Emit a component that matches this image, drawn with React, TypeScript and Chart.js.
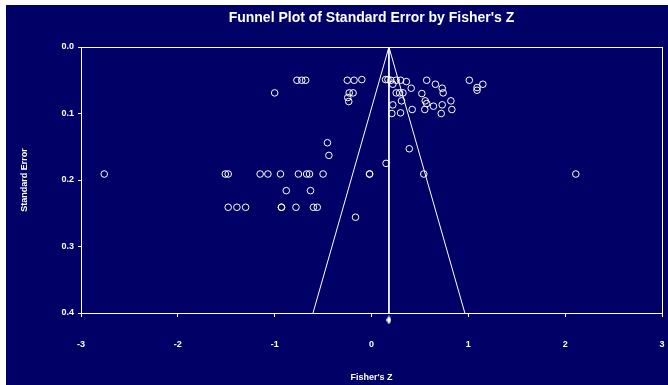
import React, { useEffect, useRef } from "react";
import { Chart, registerables } from "chart.js";

Chart.register(...registerables);

// Study effect sizes (Fisher's Z) and their standard errors
const studyZ = [
  -0.77, -0.72, -0.68, -0.25, -0.18, -0.1, 0.145, 0.17, 0.2, 0.255, 0.3, 0.36, 0.57, 1.01,
  0.22, 0.66, 1.15, 0.41, 0.73, 1.09, 1.09,
  -1.0, -0.23, -0.19, 0.255, 0.29, 0.325, 0.52, 0.74,
  -0.245, 0.31, 0.555, 0.82, -0.235, 0.57, 0.22, 0.73, 0.64,
  0.42, 0.55, 0.83, 0.21, 0.3, 0.72,
  -0.455, -0.44, 0.39, 0.15,
  -2.76, -1.51, -1.48, -1.15, -1.07, -0.94, -0.755, -0.67, -0.64, -0.5, -0.02, -0.02, 0.54, 2.11,
  -0.88, -0.63,
  -1.48, -1.39, -1.3, -0.93, -0.93, -0.78, -0.6, -0.56,
  -0.165,
];
const studySE = [
  0.05, 0.05, 0.05, 0.05, 0.05, 0.049, 0.049, 0.049, 0.05, 0.05, 0.05, 0.052, 0.05, 0.05,
  0.056, 0.056, 0.056, 0.062, 0.062, 0.061, 0.065,
  0.069, 0.069, 0.069, 0.069, 0.069, 0.069, 0.07, 0.069,
  0.076, 0.081, 0.081, 0.081, 0.082, 0.085, 0.087, 0.087, 0.089,
  0.094, 0.094, 0.094, 0.1, 0.099, 0.1,
  0.144, 0.163, 0.153, 0.175,
  0.191, 0.191, 0.191, 0.191, 0.191, 0.191, 0.191, 0.191, 0.191, 0.191, 0.191, 0.191, 0.191, 0.191,
  0.216, 0.216,
  0.241, 0.241, 0.241, 0.241, 0.241, 0.241, 0.241, 0.241,
  0.256,
];

// Summary estimate and funnel
const summaryZ = [0.18, 0.18];
const summarySE = [0, 0.4];
const funnelZ = [-0.604, 0.18, 0.964];
const funnelSE = [0.4, 0, 0.4];
const diamondZ = [0.18];
const diamondSE = [0.4105];

const xTicks = [-3, -2, -1, 0, 1, 2, 3];
const yTicks = [0, 0.1, 0.2, 0.3, 0.4];

const FONT = "'Liberation Sans', Arial, sans-serif";
const NAVY = "#000066";
const WHITE = "#ffffff";

const zip = (xs: number[], ys: number[]) => xs.map((x, i) => ({ x, y: ys[i] }));

const frame = {
  id: "frame",
  beforeDatasetsDraw(chart: any) {
    const { ctx, chartArea } = chart;
    ctx.save();
    ctx.strokeStyle = WHITE;
    ctx.lineWidth = 1;
    ctx.strokeRect(
      Math.round(chartArea.left) + 0.5,
      Math.round(chartArea.top) + 0.5,
      Math.round(chartArea.right - chartArea.left),
      Math.round(chartArea.bottom - chartArea.top)
    );
    ctx.restore();
  },
};

export default function App() {
  const ref = useRef<HTMLCanvasElement>(null);

  useEffect(() => {
    if (!ref.current) return;
    const dia = document.createElement("canvas");
    dia.width = 5;
    dia.height = 9;
    const dctx = dia.getContext("2d")!;
    dctx.fillStyle = WHITE;
    dctx.beginPath();
    dctx.moveTo(2.5, 0);
    dctx.lineTo(5, 4.5);
    dctx.lineTo(2.5, 9);
    dctx.lineTo(0, 4.5);
    dctx.closePath();
    dctx.fill();

    const chart = new Chart(ref.current, {
      type: "scatter",
      data: {
        datasets: [
          {
            type: "line",
            data: zip(summaryZ, summarySE),
            borderColor: WHITE,
            borderWidth: 1,
            pointRadius: 0,
            showLine: true,
          } as any,
          {
            type: "line",
            data: zip(funnelZ, funnelSE),
            borderColor: WHITE,
            borderWidth: 1,
            pointRadius: 0,
            showLine: true,
          } as any,
          {
            data: zip(studyZ, studySE),
            pointStyle: "circle",
            pointRadius: 3.3,
            borderColor: WHITE,
            borderWidth: 1,
            backgroundColor: "rgba(0,0,0,0)",
          },
          {
            data: zip(diamondZ, diamondSE),
            pointStyle: dia as any,
            pointRadius: 12,
            borderWidth: 0,
            clip: false as any,
          },
        ],
      },
      options: {
        animation: false,
        responsive: false,
        layout: { autoPadding: false, padding: { left: 0, top: 0, right: 6, bottom: 0 } },
        plugins: {
          legend: { display: false },
          tooltip: { enabled: false },
          title: {
            display: true,
            text: "Funnel Plot of Standard Error by Fisher's Z",
            color: WHITE,
            font: { family: FONT, size: 14, weight: "bold" },
            padding: { top: 4.6, bottom: 20.6 },
            fullSize: false,
          },
        },
        scales: {
          x: {
            type: "linear",
            min: -3,
            max: 3,
            afterBuildTicks: (s: any) => {
              s.ticks = xTicks.map((v) => ({ value: v }));
            },
            ticks: {
              color: WHITE,
              font: { family: FONT, size: 9, weight: "bold" },
              padding: 22,
              callback: (v: any) => String(v),
            },
            grid: { display: true, drawOnChartArea: false, tickLength: 4, color: WHITE },
            border: { display: true, color: WHITE },
            title: {
              display: true,
              text: "Fisher's Z",
              color: WHITE,
              font: { family: FONT, size: 9, weight: "bold" },
              padding: { top: 0, bottom: 1.6 },
            },
            afterFit: (s: any) => {
              s.height = 72;
              s.paddingLeft = 0;
              s.paddingRight = 0;
            },
          },
          y: {
            type: "linear",
            reverse: true,
            min: 0,
            max: 0.4,
            afterBuildTicks: (s: any) => {
              s.ticks = yTicks.map((v) => ({ value: v }));
            },
            ticks: {
              color: WHITE,
              font: { family: FONT, size: 9, weight: "bold" },
              padding: 4,
              callback: (v: any) => Number(v).toFixed(1),
            },
            grid: { display: true, drawOnChartArea: false, tickLength: 3, color: WHITE },
            border: { display: true, color: WHITE },
            title: {
              display: true,
              text: "Standard Error",
              color: WHITE,
              font: { family: FONT, size: 9, weight: "bold" },
              padding: { top: 13.6, bottom: 0 },
            },
            afterFit: (s: any) => {
              s.width = 75;
              s.paddingTop = 0;
              s.paddingBottom = 0;
            },
          },
        },
      } as any,
      plugins: [frame],
    });
    return () => chart.destroy();
  }, []);

  return (
    <div
      style={{
        position: "fixed",
        left: 6,
        top: 5,
        width: 662,
        height: 380,
        background: NAVY,
      }}
    >
      <canvas ref={ref} width={662} height={380} style={{ display: "block" }} />
    </div>
  );
}
